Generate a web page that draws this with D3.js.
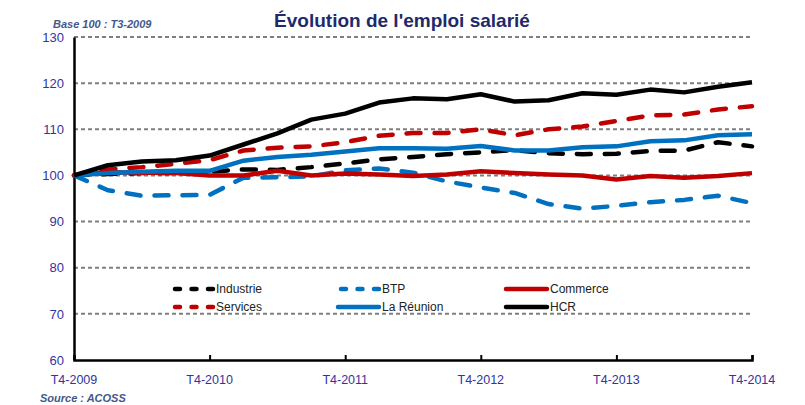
<!DOCTYPE html>
<html>
<head>
<meta charset="utf-8">
<script src="https://cdn.jsdelivr.net/npm/d3@7"></script>
<style>
body { margin: 0; background: #fff; }
svg { font-family: "Liberation Sans", Arial, sans-serif; }
</style>
</head>
<body>
<div id="chart"></div>
<script>
// Données (base 100)
const quarters = d3.range(21); // T4-2009 ... T4-2014
const xTickLabels = ["T4-2009", "T4-2010", "T4-2011", "T4-2012", "T4-2013", "T4-2014"];
const yTicks = [60, 70, 80, 90, 100, 110, 120, 130];

const industrie = [100, 100.3, 100.5, 100.5, 100.8, 101.3, 101.2, 101.8, 102.6, 103.5, 104, 104.6, 105, 105.5, 104.8, 104.6, 104.7, 105.3, 105.4, 107.2, 106.3];
const btp = [100, 96.8, 95.6, 95.7, 95.8, 99.5, 99.6, 99.8, 101.1, 101.5, 100.6, 98.7, 97.4, 96.2, 93.8, 92.8, 93.4, 94.2, 94.7, 95.6, 94];
const commerce = [100, 100.7, 100.6, 100.5, 100, 100, 101, 100, 100.4, 100.2, 99.9, 100.2, 100.9, 100.5, 100.2, 100, 99.1, 99.9, 99.5, 99.9, 100.5];
const services = [100, 101.3, 101.8, 102.5, 103.3, 105.4, 106, 106.3, 107.2, 108.6, 109.2, 109.2, 110, 108.7, 110, 110.6, 111.8, 113, 113.2, 114.3, 115];
const reunion = [100, 100.5, 100.8, 101, 101, 103.2, 104, 104.5, 105.2, 105.9, 105.9, 105.8, 106.4, 105.4, 105.4, 106.1, 106.3, 107.4, 107.6, 108.7, 108.9];
const hcr = [100, 102.2, 103, 103.3, 104.3, 106.7, 109.1, 112.1, 113.4, 115.8, 116.7, 116.5, 117.6, 116, 116.3, 117.8, 117.5, 118.6, 118, 119.2, 120.2];

const series = [
  { name: "Industrie", values: industrie, color: "#000000", dashed: true },
  { name: "BTP", values: btp, color: "#0070C0", dashed: true },
  { name: "Commerce", values: commerce, color: "#C00000", dashed: false },
  { name: "Services", values: services, color: "#C00000", dashed: true },
  { name: "La Réunion", values: reunion, color: "#0070C0", dashed: false },
  { name: "HCR", values: hcr, color: "#000000", dashed: false }
];

const width = 805;
const height = 405;
const margin = { top: 37, right: 53, bottom: 45, left: 74 };

const svg = d3.select("#chart")
  .append("svg")
  .attr("width", width)
  .attr("height", height);

// Échelles
const x = d3.scaleLinear()
  .domain([0, 20])
  .range([margin.left, width - margin.right]);

const y = d3.scaleLinear()
  .domain([60, 130])
  .range([height - margin.bottom, margin.top]);

// Grille
svg.append("g")
  .selectAll("line")
  .data(yTicks.filter(d => d > 60))
  .join("line")
  .attr("x1", margin.left)
  .attr("x2", width - margin.right)
  .attr("y1", d => y(d))
  .attr("y2", d => y(d))
  .attr("stroke", "#7f7f7f")
  .attr("stroke-width", 2)
  .attr("stroke-dasharray", "4,3");

// Axe Y
const yAxis = svg.append("g")
  .attr("transform", `translate(${margin.left},0)`)
  .call(d3.axisLeft(y).tickValues(yTicks).tickSize(0).tickPadding(10));
yAxis.select(".domain").attr("stroke", "#000").attr("stroke-width", 2.5);
yAxis.selectAll("text")
  .attr("fill", "#3333A0")
  .style("font-size", "13px");

// Axe X
const xAxis = svg.append("g")
  .attr("transform", `translate(0,${height - margin.bottom})`)
  .call(d3.axisTop(x).tickValues([0, 4, 8, 12, 16, 20]).tickSize(5).tickFormat(""));
xAxis.select(".domain").attr("stroke", "#000").attr("stroke-width", 2.5);
xAxis.selectAll(".tick line").attr("stroke", "#000").attr("stroke-width", 2);

svg.append("g")
  .selectAll("text")
  .data(xTickLabels)
  .join("text")
  .attr("x", (d, i) => x(i * 4))
  .attr("y", height - margin.bottom + 24)
  .attr("text-anchor", "middle")
  .attr("fill", "#3333A0")
  .style("font-size", "12.5px")
  .text(d => d);

// Courbes
const line = d3.line()
  .x((d, i) => x(quarters[i]))
  .y(d => y(d));

svg.append("g")
  .selectAll("path")
  .data(series)
  .join("path")
  .attr("d", d => line(d.values))
  .attr("fill", "none")
  .attr("stroke", d => d.color)
  .attr("stroke-width", 4.5)
  .attr("stroke-linejoin", "round")
  .attr("stroke-linecap", d => d.dashed ? "round" : "butt")
  .attr("stroke-dasharray", d => d.dashed ? "14,14" : null);

// Légende
const legendX = [172, 338, 506];
const legendY = [289, 307];
const legend = svg.append("g")
  .selectAll("g")
  .data(series)
  .join("g")
  .attr("transform", (d, i) => `translate(${legendX[i % 3]},${legendY[Math.floor(i / 3)]})`);

legend.append("line")
  .attr("x1", d => d.dashed ? 3 : 0)
  .attr("x2", 41)
  .attr("stroke", d => d.color)
  .attr("stroke-width", 4.5)
  .attr("stroke-linecap", "round")
  .attr("stroke-dasharray", d => d.dashed ? "5,11.5" : null);

legend.append("text")
  .attr("x", 44)
  .attr("y", 4)
  .attr("fill", "#222")
  .style("font-size", "12px")
  .text(d => d.name);

// Titres
svg.append("text")
  .attr("x", 402)
  .attr("y", 27)
  .attr("text-anchor", "middle")
  .attr("fill", "#1F2A6B")
  .style("font-size", "19px")
  .style("font-weight", "bold")
  .text("Évolution de l'emploi salarié");

svg.append("text")
  .attr("x", 53)
  .attr("y", 28)
  .attr("fill", "#42598A")
  .style("font-size", "11px")
  .style("font-weight", "bold")
  .style("font-style", "italic")
  .text("Base 100 : T3-2009");

svg.append("text")
  .attr("x", 40)
  .attr("y", 402)
  .attr("fill", "#42598A")
  .style("font-size", "11px")
  .style("font-weight", "bold")
  .style("font-style", "italic")
  .text("Source : ACOSS");
</script>
</body>
</html>
